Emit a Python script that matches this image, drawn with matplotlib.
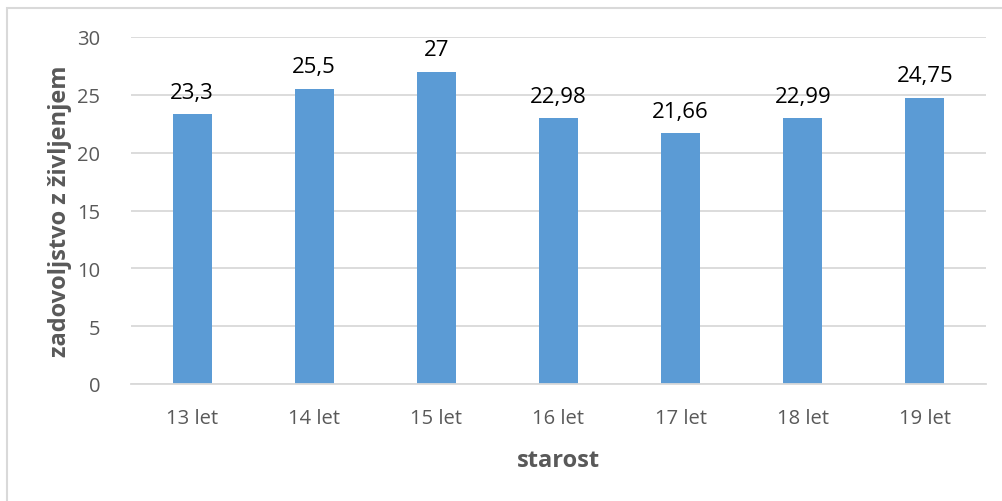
import matplotlib
matplotlib.use("Agg")
import matplotlib.pyplot as plt
from matplotlib.patches import Rectangle

categories = ["13 let", "14 let", "15 let", "16 let", "17 let", "18 let", "19 let"]
values = [23.3, 25.5, 27, 22.98, 21.66, 22.99, 24.75]
labels = ["23,3", "25,5", "27", "22,98", "21,66", "22,99", "24,75"]

BAR = "#5B9BD5"
GREY = "#595959"
GRID = "#D9D9D9"
plt.rcParams["font.family"] = ["Open Sans", "DejaVu Sans"]

W, H = 1002, 502
fig = plt.figure(figsize=(W / 100, H / 100), dpi=100)

# outer chart frame, running off the right and bottom edges
fig.patches.append(Rectangle((7 / W, -0.1), 1.2, 1 - 9 / H + 0.1, transform=fig.transFigure,
                             fill=False, edgecolor=GRID, lw=1.5))

ax = fig.add_axes([131 / W, 1 - 385 / H, (986 - 131) / W, (385 - 38) / H])
x = range(len(categories))
ax.bar(x, values, width=0.32, color=BAR, zorder=2)
for xi, v, s in zip(x, values, labels):
    ax.text(xi, v + 1.0, s, ha="center", va="bottom", fontsize=16, color="black")

ax.set_xlim(-0.5, len(categories) - 0.5)
ax.set_ylim(0, 30)
ax.set_yticks(range(0, 31, 5))
ax.set_xticks(list(x))
ax.set_xticklabels(categories)
ax.tick_params(length=0, labelsize=14.5, colors=GREY, pad=17)
ax.tick_params(axis="y", pad=22)
ax.yaxis.grid(True, color=GRID, lw=1.3, zorder=0)
for side in ["top", "right", "left"]:
    ax.spines[side].set_visible(False)
ax.spines["bottom"].set_color(GRID)
ax.spines["bottom"].set_linewidth(1.3)

ax.set_xlabel("starost", fontsize=17, fontweight="bold", color=GREY, labelpad=15)
ax.set_ylabel("zadovoljstvo z življenjem", fontsize=17, fontweight="bold", color=GREY, labelpad=4)

fig.savefig("out.png", dpi=100)
